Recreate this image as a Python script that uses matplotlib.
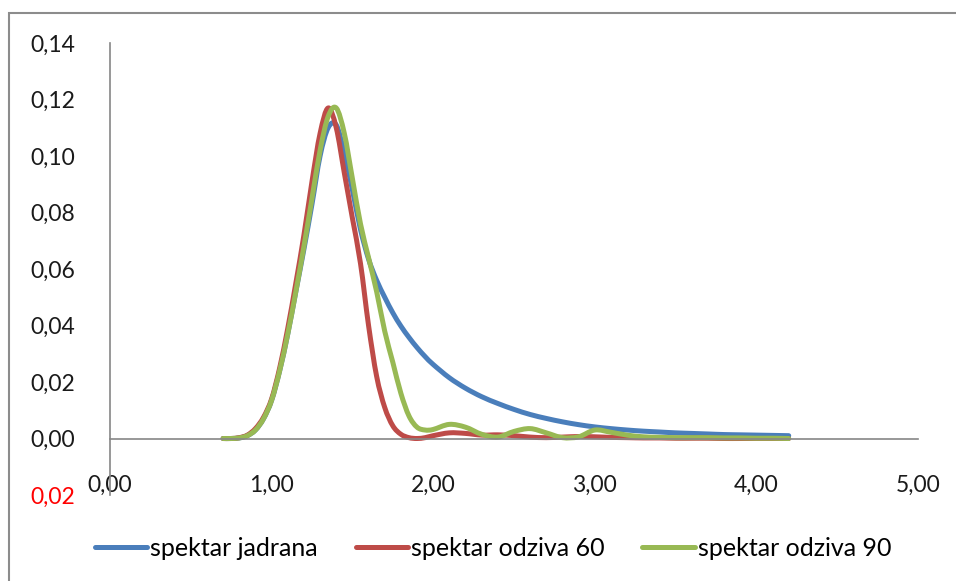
import matplotlib
matplotlib.use("Agg")
import numpy as np
import matplotlib.pyplot as plt
from matplotlib.patches import Rectangle, PathPatch
from matplotlib.path import Path
from matplotlib.ticker import FuncFormatter, MultipleLocator

# frequency axis (0.05 step near the peak, 0.1 in the tail)
freq = [0.70, 0.75, 0.80, 0.85, 0.90, 0.95, 1.00, 1.05, 1.10, 1.15, 1.20,
        1.25, 1.30, 1.35, 1.40, 1.45, 1.50, 1.55, 1.60, 1.65, 1.70, 1.75,
        1.80, 1.85, 1.90, 1.95, 2.00, 2.10, 2.20, 2.30, 2.40, 2.50, 2.60,
        2.70, 2.80, 2.90, 3.00, 3.10, 3.20, 3.30, 3.40, 3.50, 3.60, 3.70,
        3.80, 3.90, 4.00, 4.10, 4.20]

jadran = [0.0000, 0.0000, 0.0002, 0.0010, 0.0030, 0.0070, 0.0135, 0.0240,
          0.0370, 0.0520, 0.0670, 0.0830, 0.1000, 0.1100, 0.1110, 0.1010,
          0.0880, 0.0740, 0.0635, 0.0560, 0.0500, 0.0445, 0.0398, 0.0358,
          0.0322, 0.0290, 0.0262, 0.0215, 0.0178, 0.0148, 0.0124, 0.0103,
          0.0085, 0.0071, 0.0059, 0.0049, 0.0041, 0.0035, 0.0030, 0.0026,
          0.0023, 0.0020, 0.0018, 0.0016, 0.0014, 0.0013, 0.0012, 0.0011,
          0.0010]

odziv60 = [0.0000, 0.0000, 0.0003, 0.0012, 0.0035, 0.0075, 0.0140, 0.0250,
           0.0390, 0.0550, 0.0720, 0.0910, 0.1080, 0.1170, 0.1100, 0.0940,
           0.0780, 0.0620, 0.0400, 0.0220, 0.0110, 0.0045, 0.0015, 0.0003,
           0.0000, 0.0003, 0.0010, 0.0020, 0.0018, 0.0012, 0.0013, 0.0010,
           0.0005, 0.0003, 0.0005, 0.0007, 0.0006, 0.0004, 0.0003, 0.0002,
           0.0002, 0.0001, 0.0001, 0.0001, 0.0000, 0.0000, 0.0000, 0.0000,
           0.0000]

odziv90 = [0.0000, 0.0000, 0.0002, 0.0010, 0.0030, 0.0070, 0.0135, 0.0240,
           0.0370, 0.0520, 0.0680, 0.0850, 0.1020, 0.1140, 0.1170, 0.1080,
           0.0920, 0.0760, 0.0640, 0.0520, 0.0380, 0.0270, 0.0160, 0.0080,
           0.0040, 0.0030, 0.0032, 0.0050, 0.0040, 0.0015, 0.0005, 0.0025,
           0.0035, 0.0020, 0.0003, 0.0006, 0.0030, 0.0022, 0.0012, 0.0006,
           0.0004, 0.0003, 0.0003, 0.0003, 0.0002, 0.0002, 0.0001, 0.0001,
           0.0000]

labels = ["spektar jadrana", "spektar odziva 60", "spektar odziva 90"]
colors = ["#4A7EBB", "#BE4B48", "#98B954"]

plt.rcParams['font.family'] = ['Lato', 'DejaVu Sans']


def smooth_path(xs, ys):
    # Excel-style "smoothed line": cubic bezier through every data point
    p = np.column_stack([xs, ys])
    p = np.vstack([p[0], p, p[-1]])
    verts = [p[1]]
    codes = [Path.MOVETO]
    for i in range(1, len(p) - 2):
        c1 = p[i] + (p[i + 1] - p[i - 1]) / 6
        c2 = p[i + 1] - (p[i + 2] - p[i]) / 6
        verts += [c1, c2, p[i + 1]]
        codes += [Path.CURVE4] * 3
    return Path(verts, codes)


def main():
    fig = plt.figure(figsize=(9.56, 5.81), dpi=100)
    # chart area border
    fig.patches.append(Rectangle((9 / 956, -0.05), 1.0, 1 - 13 / 581 + 0.05,
                                 transform=fig.transFigure, fill=False,
                                 edgecolor="#8c8c8c", linewidth=1.5))

    ax = fig.add_axes([110 / 956, 1 - 495 / 581, 808 / 956, 452 / 581])

    for ys, lab, col in zip([jadran, odziv60, odziv90], labels, colors):
        ax.add_patch(PathPatch(smooth_path(freq, ys), fill=False,
                               edgecolor=col, linewidth=3.6,
                               capstyle='round', joinstyle='round'))
        ax.plot([], [], color=col, linewidth=3.6, label=lab,
                solid_capstyle='round')

    ax.set_xlim(0, 5)
    ax.set_ylim(-0.02, 0.14)
    ax.xaxis.set_major_locator(MultipleLocator(1))
    ax.yaxis.set_major_locator(MultipleLocator(0.02))

    fmt = FuncFormatter(lambda v, p: f"{abs(v):.2f}".replace(".", ","))
    ax.xaxis.set_major_formatter(fmt)
    ax.yaxis.set_major_formatter(fmt)

    for s in ["top", "right"]:
        ax.spines[s].set_visible(False)
    ax.spines["bottom"].set_position(("data", 0))
    ax.spines["bottom"].set_color("#868686")
    ax.spines["left"].set_color("#868686")
    ax.spines["bottom"].set_linewidth(1.2)
    ax.spines["left"].set_linewidth(1.2)

    ax.tick_params(axis="both", length=0, labelsize=16.5, colors="#1a1a1a")
    ax.tick_params(axis="y", pad=25)
    ax.tick_params(axis="x", pad=26)

    fig.canvas.draw()
    for t in ax.get_yticklabels():
        if t.get_position()[1] < -1e-9:
            t.set_color("red")

    ax.legend(loc="center", bbox_to_anchor=(493 / 956, 1 - 548 / 581),
              bbox_transform=fig.transFigure, ncol=3, frameon=False,
              fontsize=18, handlelength=2.1, handletextpad=0.12,
              columnspacing=1.5)

    fig.savefig("out.png", dpi=100)


if __name__ == '__main__':
    main()
